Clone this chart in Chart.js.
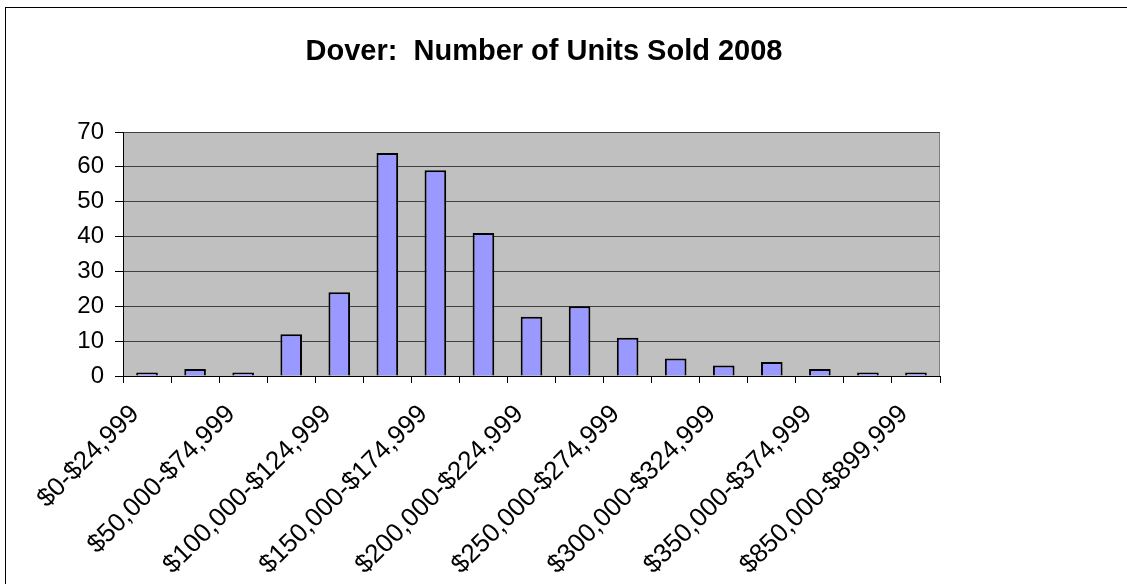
<!DOCTYPE html>
<html>
<head>
<meta charset="utf-8">
<script src="https://cdn.jsdelivr.net/npm/chart.js@4"></script>
<style>
    html, body { margin: 0; padding: 0; background: #fff; overflow: hidden; }
    #wrap { position: relative; width: 1127px; height: 584px; }
    #frame {
        position: absolute; left: 5px; top: 7px; width: 1200px; height: 700px;
        border-left: 1px solid #000; border-top: 1px solid #000;
    }
    #unitsChart { position: absolute; left: 0; top: 0; }
</style>
</head>
<body>
<div id="wrap">
    <div id="frame"></div>
    <canvas id="unitsChart" width="1127" height="584"></canvas>
</div>
<script>
const TITLE = "Dover:  Number of Units Sold 2008";

const PRICE_RANGES = [
    "$0-$24,999", "$25,000-$49,999", "$50,000-$74,999", "$75,000-$99,999",
    "$100,000-$124,999", "$125,000-$149,999", "$150,000-$174,999", "$175,000-$199,999",
    "$200,000-$224,999", "$225,000-$249,999", "$250,000-$274,999", "$275,000-$299,999",
    "$300,000-$324,999", "$325,000-$349,999", "$350,000-$374,999", "$375,000-$399,999",
    "$850,000-$899,999"
];
const UNITS_SOLD = [1, 2, 1, 12, 24, 64, 59, 41, 17, 20, 11, 5, 3, 4, 2, 1, 1];
const Y_MIN = 0;
const Y_MAX = 70;
const Y_STEP = 10;

const FONT = "'Liberation Sans', Arial, sans-serif";

// grey plot area like the old Excel charts, border on top/right
const plotBackground = {
    id: 'plotBackground',
    beforeDraw(chart) {
        const { ctx, chartArea: a } = chart;
        ctx.save();
        ctx.fillStyle = '#c0c0c0';
        ctx.fillRect(a.left, a.top, a.right - a.left, a.bottom - a.top);
        ctx.strokeStyle = '#808080';
        ctx.lineWidth = 1;
        ctx.strokeRect(a.left + 0.5, a.top + 0.5, a.right - a.left - 1, a.bottom - a.top);
        ctx.restore();
    }
};

// title is centred on the whole chart box, not the plot
const chartTitle = {
    id: 'chartTitle',
    afterDraw(chart) {
        const ctx = chart.ctx;
        ctx.save();
        ctx.font = `bold 29px ${FONT}`;
        ctx.fillStyle = '#000';
        ctx.textAlign = 'center';
        ctx.textBaseline = 'alphabetic';
        ctx.fillText(TITLE, 544, 60);
        ctx.restore();
    }
};

function initChart() {
    const ctx = document.getElementById('unitsChart').getContext('2d');
    return new Chart(ctx, {
        type: 'bar',
        data: {
            labels: PRICE_RANGES,
            datasets: [{
                label: 'Units Sold',
                data: UNITS_SOLD,
                backgroundColor: '#9999ff',
                borderColor: '#000',
                borderWidth: 2,
                barPercentage: 0.45,
                categoryPercentage: 1
            }]
        },
        options: {
            responsive: false,
            devicePixelRatio: 1,
            animation: false,
            layout: { padding: { left: 0, top: 132, right: 187, bottom: 0 } },
            plugins: {
                legend: { display: false },
                title: { display: false },
                tooltip: { enabled: false }
            },
            scales: {
                x: {
                    offset: true,
                    afterFit: (scale) => { scale.height = 208; },
                    grid: {
                        offset: true, drawOnChartArea: false,
                        tickLength: 7, color: '#000', tickColor: '#000'
                    },
                    border: { color: '#000', width: 1 },
                    ticks: {
                        autoSkip: false, minRotation: 45, maxRotation: 45,
                        padding: 16, labelOffset: -12, color: '#000',
                        font: { family: FONT, size: 26 },
                        callback: (v, i) => (i % 2 === 0 ? PRICE_RANGES[i] : '')
                    }
                },
                y: {
                    min: Y_MIN, max: Y_MAX,
                    afterFit: (scale) => { scale.width = 123; },
                    grid: { color: '#404040', tickLength: 8, tickColor: '#000' },
                    border: { color: '#000', width: 1 },
                    ticks: {
                        stepSize: Y_STEP, padding: 11, color: '#000',
                        font: { family: FONT, size: 24 }
                    }
                }
            }
        },
        plugins: [plotBackground, chartTitle]
    });
}

initChart();
</script>
</body>
</html>
